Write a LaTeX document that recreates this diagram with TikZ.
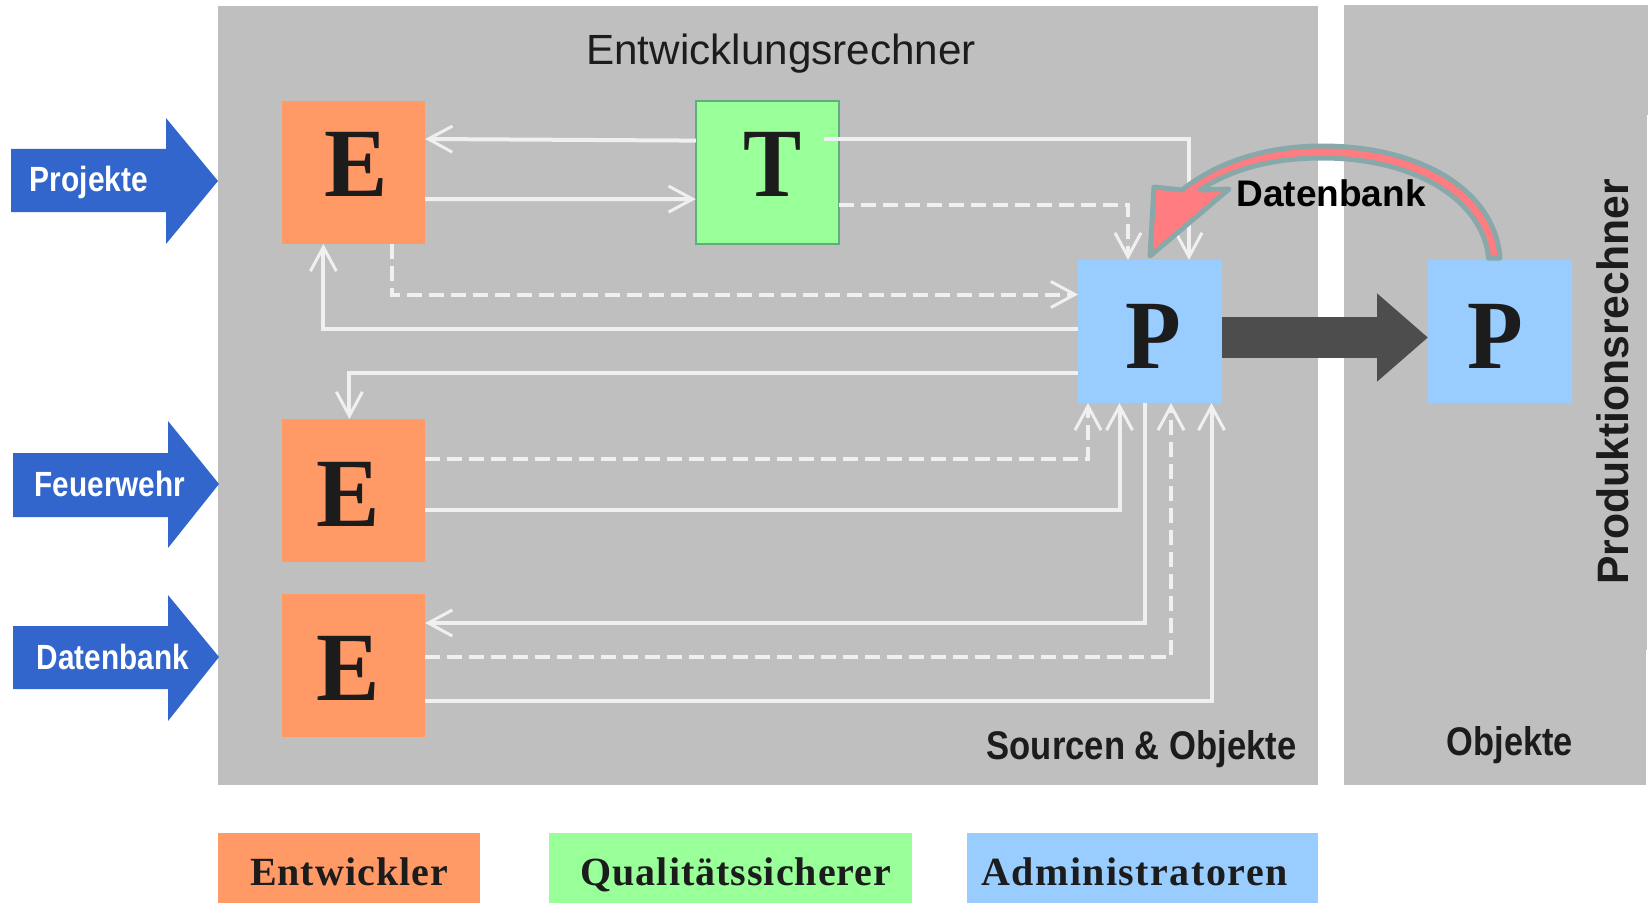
\documentclass[tikz,border=0pt]{standalone}
\usepackage{fontspec}
\usepackage{graphicx}
\setmainfont{Liberation Serif}
\newfontfamily\arial{Liberation Sans}
\newfontfamily\spacedserif[LetterSpace=2.5]{Liberation Serif}
\newfontfamily\spacedserifb[LetterSpace=3.6]{Liberation Serif}
\usetikzlibrary{arrows.meta}
\definecolor{panelgrey}{HTML}{BFBFBF}
\definecolor{orangebox}{HTML}{FF9966}
\definecolor{greenbox}{HTML}{99FF99}
\definecolor{greenedge}{HTML}{5FAE7F}
\definecolor{bluebox}{HTML}{99CCFF}
\definecolor{bluearrow}{HTML}{3366CC}
\definecolor{darkarrow}{HTML}{4D4D4D}
\definecolor{linewhite}{HTML}{F0F0F0}
\definecolor{redfill}{HTML}{FF7C80}
\definecolor{redline}{HTML}{88A8AA}
\definecolor{inkdark}{HTML}{1C1C1C}
\newcommand\fsz[1]{\fontsize{#1}{#1}\selectfont}
\tikzset{
  box/.style={rectangle,minimum width=143.5pt,minimum height=143pt,inner sep=0pt,outer sep=0pt},
  letter/.style={inner sep=0pt,outer sep=0pt,text=inkdark,font=\fsz{98}\bfseries},
  legendtxt/.style={inner sep=0pt,outer sep=0pt,anchor=base,text=inkdark,font=\spacedserif\bfseries\fsz{40}},
  sanstxt/.style={inner sep=0pt,outer sep=0pt,anchor=base,font=\arial\bfseries\fsz{40}},
  arrowtxt/.style={inner sep=0pt,outer sep=0pt,text=white,font=\arial\bfseries\fsz{35}},
  conn/.style={draw=linewhite,line width=4pt,-{Straight Barb[length=24pt,width=26pt,line width=3pt]}},
  dconn/.style={conn,dash pattern=on 15pt off 7pt},
  bluearr/.style={fill=bluearrow,draw=none},
}
\begin{document}
\begin{tikzpicture}[x=1pt,y=-1pt]
\useasboundingbox (0,0) rectangle (1648,904);
\fill[white] (0,0) rectangle (1648,904);
% panels
\fill[panelgrey] (218,6) rectangle (1317.5,785);
\fill[panelgrey] (1344,5) rectangle (1645.7,785);
\fill[panelgrey] (1344,5) rectangle (1648,115);
\fill[panelgrey] (1344,115) rectangle (1647,650);
% input arrows
\path[bluearr] (11,149) -- (166,149) -- (166,118) -- (218,181) -- (166,244) -- (166,212) -- (11,212) -- cycle;
\path[bluearr] (13,453) -- (168,453) -- (168,421) -- (219,484) -- (168,548) -- (168,517) -- (13,517) -- cycle;
\path[bluearr] (13,626) -- (168,626) -- (168,595) -- (219,657) -- (168,721) -- (168,689) -- (13,689) -- cycle;
\node[arrowtxt] (lproj) at (89,182) {\scalebox{.855}[1]{Projekte}};
\node[arrowtxt] (lfeu) at (110,484) {\scalebox{.85}[1]{Feuerwehr}};
\node[arrowtxt] (ldat) at (113,657) {\scalebox{.85}[1]{Datenbank}};
% boxes
\node[box,fill=orangebox] (E1) at (353.4,172.5) {};
\node[box,fill=orangebox] (E2) at (353.4,490.5) {};
\node[box,fill=orangebox] (E3) at (353.4,665.5) {};
\node[box,fill=greenbox,draw=greenedge,line width=2pt,minimum width=143.5pt,minimum height=143pt] (T) at (767.5,172.6) {};
\node[box,fill=bluebox,minimum width=144pt] (P1) at (1150,331.5) {};
\node[box,fill=bluebox,minimum width=144pt] (P2) at (1500,331.5) {};
\node[letter] (tE1) at (356.5,164) {\scalebox{.97}[1]{E}};
\node[letter] (tE2) at (348.5,494) {\scalebox{.97}[1]{E}};
\node[letter] (tE3) at (348.5,668) {\scalebox{.97}[1]{E}};
\node[letter] (tT) at (772.5,164) {\scalebox{.89}[1]{T}};
\node[letter] (tP1) at (1153,336) {\scalebox{.93}[1]{P}};
\node[letter] (tP2) at (1495,336) {\scalebox{.93}[1]{P}};
% connectors
\draw[conn] ([yshift=32pt]T.west) -- ([yshift=33.5pt]E1.east);
\draw[conn] ([yshift=-26.5pt]E1.east) -- ([yshift=-26.5pt]T.west);
\draw[conn] ([xshift=56pt,yshift=33.5pt]T.center) -| ([xshift=39pt]P1.north);
\draw[dconn] ([yshift=-32pt]T.east) -| ([xshift=-22pt]P1.north);
\draw[dconn] ([xshift=38.5pt]E1.south) |- ([yshift=37pt]P1.west);
\draw[conn] ([yshift=2.5pt]P1.west) -| ([xshift=-30pt]E1.south);
\draw[conn] ([yshift=-41pt]P1.west) -| ([xshift=-4pt]E2.north);
\draw[dconn] ([yshift=31.5pt]E2.east) -| ([xshift=-62pt]P1.south);
\draw[conn] ([yshift=-19.5pt]E2.east) -| ([xshift=-30.5pt]P1.south);
\draw[conn] ([xshift=-5pt]P1.south) |- ([yshift=42.5pt]E3.east);
\draw[dconn] ([yshift=8.5pt]E3.east) -| ([xshift=21pt]P1.south);
\draw[conn] ([yshift=-35.5pt]E3.east) -| ([xshift=61.5pt]P1.south);
% thick transfer arrow
\draw[draw=darkarrow,line width=41pt,-{Triangle[length=51pt,width=85pt,fill=darkarrow]}] ([yshift=-6pt]P1.east) -- ([yshift=-6pt]P2.west);
% curved database arrow
\draw[draw=redline,fill=redfill,line width=5pt,line join=round]
  ([xshift=-11.5pt,yshift=2pt]P2.north)
  .. controls (1483,200) and (1415,158) .. (1322,158)
  .. controls (1270,158) and (1230,170) .. (1200,190)
  -- (1229,189) -- ([yshift=4pt]P1.north) -- (1154,187) -- (1182,190)
  .. controls (1220,160) and (1270,146) .. (1322,146)
  .. controls (1420,146) and (1495,190) .. ([xshift=0pt,yshift=2pt]P2.north)
  -- cycle;
% texts
\node[inner sep=0pt,anchor=base,text=inkdark,font=\arial\fsz{42.2}] (title) at (781,65) {Entwicklungsrechner};
\node[sanstxt,text=inkdark] (src) at (1141.5,759) {\scalebox{.865}[1]{Sourcen \& Objekte}};
\node[sanstxt,text=inkdark] (obj) at (1510,755) {\scalebox{.86}[1]{Objekte}};
\node[inner sep=0pt,anchor=base,text=black,font=\arial\bfseries\fsz{37}] (dbl) at (1331,207) {Datenbank};
\node[inner sep=0pt,anchor=base,rotate=90,text=inkdark,font=\arial\bfseries\fsz{44}] (prod) at (1628,382) {\scalebox{.97}[1]{Produktionsrechner}};
% legend
\node[box,fill=orangebox,minimum width=261.6pt,minimum height=70pt] (l1) at (348.8,868) {};
\node[box,fill=greenbox,minimum width=363.5pt,minimum height=70pt] (l2) at (730.3,868) {};
\node[box,fill=bluebox,minimum width=351pt,minimum height=70pt] (l3) at (1142.1,868) {};
\node[legendtxt] (lt1) at (349,885) {Entwickler};
\node[legendtxt] (lt2) at (736,885) {Qualitätssicherer};
\node[legendtxt,font=\spacedserifb\bfseries\fsz{40}] (lt3) at (1134.5,885) {Administratoren};
\end{tikzpicture}
\end{document}
